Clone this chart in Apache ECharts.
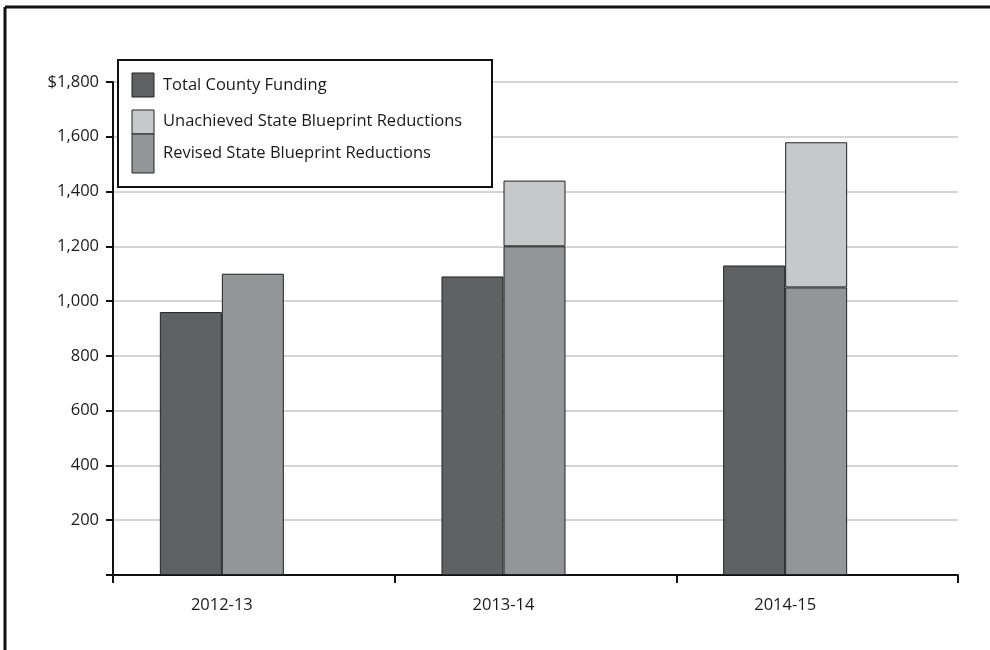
<!DOCTYPE html>
<html>
<head>
<meta charset="utf-8">
<script src="https://cdn.jsdelivr.net/npm/echarts@6/dist/echarts.min.js"></script>
<style>
  html, body { margin: 0; padding: 0; background: #fff; }
  #chart { width: 990px; height: 650px; }
</style>
</head>
<body>
<div id="chart"></div>
<script>
// Fiscal years shown on the horizontal axis
const years = ['2012-13', '2013-14', '2014-15'];
// Funding amounts (millions of dollars)
const totalCountyFunding = [960, 1090, 1130];
const revisedReductions = [1100, 1200, 1050];
const unachievedReductions = [0, 240, 530];
// Vertical axis
const yMax = 1800;
const yStep = 200;

const FONT = '"Open Sans", "Noto Sans", sans-serif';
const TEXT = '#1a1a1a';
const DARK = '#5f6163';
const MID = '#939598';
const LIGHT = '#c7c8ca';
const EDGE = '#222';

const chart = echarts.init(document.getElementById('chart'), null, { renderer: 'canvas' });

const legendItems = [
  { text: 'Total County Funding', y: 85 },
  { text: 'Unachieved State Blueprint Reductions', y: 121 },
  { text: 'Revised State Blueprint Reductions', y: 153 }
];

chart.setOption({
  animation: false,
  backgroundColor: '#fff',
  grid: [
    // frame for axes, grid lines and tick marks
    { left: 113, right: 32, top: 82, bottom: 75 },
    // bars sit left of each category centre
    { left: 81, right: 64, top: 82, bottom: 75 }
  ],
  xAxis: [
    {
      type: 'category', gridIndex: 0, data: years, boundaryGap: true,
      axisLine: { lineStyle: { color: '#111', width: 2 } },
      axisTick: { show: true, length: 8, lineStyle: { color: '#111', width: 2 } },
      axisLabel: { show: false }
    },
    {
      type: 'category', gridIndex: 1, data: years, boundaryGap: true,
      axisLine: { show: false }, axisTick: { show: false },
      axisLabel: { color: TEXT, fontFamily: FONT, fontSize: 16.5, margin: 22 }
    }
  ],
  yAxis: [
    {
      type: 'value', gridIndex: 0, min: 0, max: yMax, interval: yStep,
      axisLine: { show: true, lineStyle: { color: '#111', width: 2 } },
      axisTick: { show: true, length: 7, lineStyle: { color: '#111', width: 2 } },
      splitLine: { show: true, lineStyle: { color: '#d4d4d4', width: 2 } },
      axisLabel: {
        color: TEXT, fontFamily: FONT, fontSize: 16.5, margin: 14,
        formatter: v => v === 0 ? '' : (v === yMax ? '$' : '') + v.toLocaleString('en-US')
      }
    },
    {
      type: 'value', gridIndex: 1, min: 0, max: yMax, interval: yStep,
      show: false, splitLine: { show: false }
    }
  ],
  series: [
    {
      name: 'Total County Funding', type: 'bar', xAxisIndex: 1, yAxisIndex: 1,
      data: totalCountyFunding, barWidth: 62, barGap: '0%',
      itemStyle: { color: DARK, borderColor: EDGE, borderWidth: 1 }
    },
    {
      name: 'Revised State Blueprint Reductions', type: 'bar', xAxisIndex: 1, yAxisIndex: 1,
      stack: 'state', data: revisedReductions, barWidth: 62,
      itemStyle: { color: MID, borderColor: EDGE, borderWidth: 1 }
    },
    {
      name: 'Unachieved State Blueprint Reductions', type: 'bar', xAxisIndex: 1, yAxisIndex: 1,
      stack: 'state', data: unachievedReductions.map(v => v === 0 ? null : v), barWidth: 62,
      itemStyle: { color: LIGHT, borderColor: EDGE, borderWidth: 1 }
    }
  ],
  graphic: [
    // outer frame (top and left edges)
    { type: 'line', shape: { x1: 5, y1: 7, x2: 990, y2: 7 }, style: { stroke: '#111', lineWidth: 3 } },
    { type: 'line', shape: { x1: 5, y1: 7, x2: 5, y2: 650 }, style: { stroke: '#111', lineWidth: 3 } },
    // legend box
    { type: 'rect', z: 10, shape: { x: 118, y: 60, width: 374, height: 127 },
      style: { fill: '#fff', stroke: '#111', lineWidth: 2 } },
    { type: 'rect', z: 11, shape: { x: 132, y: 73, width: 22, height: 24 },
      style: { fill: DARK, stroke: EDGE, lineWidth: 1 } },
    { type: 'rect', z: 11, shape: { x: 132, y: 110, width: 22, height: 24 },
      style: { fill: LIGHT, stroke: EDGE, lineWidth: 1 } },
    { type: 'rect', z: 11, shape: { x: 132, y: 134, width: 22, height: 39 },
      style: { fill: MID, stroke: EDGE, lineWidth: 1 } },
    ...legendItems.map(it => ({
      type: 'text', z: 11, x: 163, y: it.y,
      style: { text: it.text, fill: TEXT, font: '16.5px ' + FONT, textVerticalAlign: 'middle' }
    }))
  ]
});
</script>
</body>
</html>
